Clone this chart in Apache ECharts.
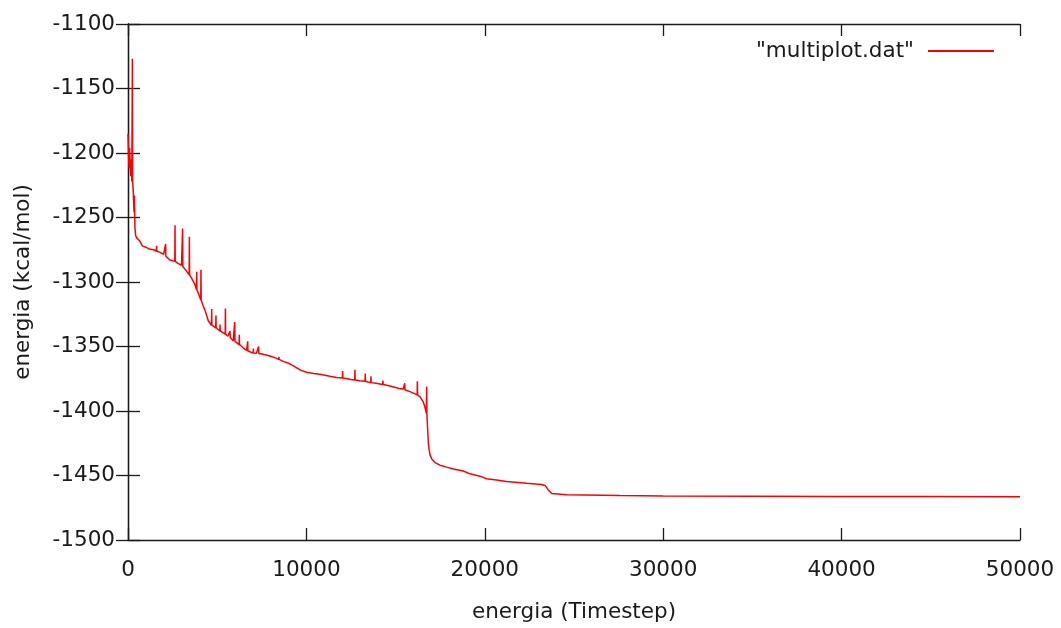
<!DOCTYPE html>
<html>
<head>
<meta charset="utf-8">
<script src="https://cdn.jsdelivr.net/npm/echarts@6/dist/echarts.min.js"></script>
<style>
html,body{margin:0;padding:0;background:#fff;}
#c{width:1061px;height:628px;}
</style>
</head>
<body>
<div id="c"></div>
<script>
// ---- data ----
var baseT = [0,30,60,90,120,150,190,215,290,320,340,390,430,500,650,800,1000,1200,1420,1800,2000,2350,2800,3000,3250,3600,3750,3950,4200,4320,4500,4800,5050,5300,5600,5900,6100,6450,6650,6900,7200,7585,8000,8300,8700,9000,9270,9700,10015,10400,10760,11320,11700,12300,12500,13000,13450,13900,14125,14500,14800,15200,15430,15800,16090,16370,16550,16620,16680,16790,16835,16880,16930,17020,17210,17490,17860,18235,18795,19170,19730,20100,20665,21225,22345,23190,23400,23550,23750,24590,27580,30000,35000,40000,45000,50000];
var baseE = [-1185,-1200,-1212,-1196,-1208,-1218,-1205,-1222,-1228,-1240,-1246,-1258,-1264,-1266,-1268,-1272,-1273,-1274.5,-1275,-1277,-1278.5,-1283,-1285.5,-1287,-1291,-1298,-1302,-1309,-1318,-1322,-1330,-1334.5,-1337,-1339,-1342,-1345.6,-1347,-1351,-1353,-1354.5,-1355.3,-1356,-1357.5,-1359,-1361.5,-1363,-1365,-1368.5,-1370,-1371,-1371.5,-1373,-1374,-1375,-1375.5,-1376.5,-1377.5,-1378.5,-1379,-1380,-1381,-1382.5,-1383,-1385,-1386.7,-1389,-1393,-1396,-1399,-1412,-1425,-1430,-1434,-1437,-1440,-1442,-1443.5,-1445,-1446.5,-1448.7,-1450.5,-1452.5,-1453.5,-1454.6,-1456,-1457,-1458,-1461,-1464,-1465,-1465.6,-1465.8,-1466,-1466.2,-1466.3,-1466.5];
var spikeT    = [245,360,1600,2110,2635,3060,3440,3850,4090,4690,4930,5160,5460,5720,5980,6240,6710,7030,7320,8460,12030,12720,13300,13620,14290,15510,16220,16740];
var spikeBase = [-1222,-1245,-1276,-1280,-1284,-1288,-1294.5,-1306,-1314,-1333.5,-1335.5,-1338,-1340.5,-1343,-1346,-1348.5,-1353.5,-1355,-1355.5,-1360,-1374.5,-1376,-1377,-1378,-1379.5,-1383.5,-1387.5,-1402];
var spikeTop  = [-1127,-1233,-1272,-1270.5,-1256,-1258.5,-1265,-1292,-1290.5,-1321,-1326,-1333,-1320.5,-1338,-1331,-1341,-1346,-1351.5,-1350,-1358,-1369,-1368,-1371,-1373,-1376.4,-1378.5,-1377,-1381];
var xTicks = [0,10000,20000,30000,40000,50000];
var yTicks = [-1500,-1450,-1400,-1350,-1300,-1250,-1200,-1150,-1100];
var seriesName = '"multiplot.dat"';

// ---- build series ----
var pts = [];
for (var i = 0; i < baseT.length; i++) pts.push([baseT[i], baseE[i]]);
for (var j = 0; j < spikeT.length; j++) {
  pts.push([spikeT[j] - 12, spikeBase[j]]);
  pts.push([spikeT[j], spikeTop[j]]);
  pts.push([spikeT[j] + 12, spikeBase[j]]);
}
pts.sort(function(a, b){ return a[0] - b[0]; });

var FONT = 'DejaVu Sans';
var FS = 21.5;
var TXT = '#1a1a1a';
var axisLineStyle = {color: '#1a1a1a', width: 1.3};
function plain(v){ return String(v); }

var chart = echarts.init(document.getElementById('c'), null, {renderer: 'canvas'});
chart.setOption({
  animation: false,
  backgroundColor: '#ffffff',
  textStyle: {fontFamily: FONT},
  grid: {left: 128, right: 41, top: 24, bottom: 84, containLabel: false},
  legend: {
    data: [{name: seriesName, icon: 'rect'}],
    right: 62, top: 35,
    align: 'right',
    itemWidth: 66, itemHeight: 2,
    textStyle: {fontFamily: FONT, fontSize: FS, color: TXT, padding: [0, 9, 0, 0]},
    selectedMode: false
  },
  xAxis: [{
    type: 'value', min: xTicks[0], max: xTicks[xTicks.length - 1], interval: 10000,
    name: 'energia (Timestep)', nameLocation: 'middle', nameGap: 61,
    nameTextStyle: {fontFamily: FONT, fontSize: FS, color: TXT},
    axisLine: {show: true, lineStyle: axisLineStyle},
    axisTick: {show: true, inside: true, length: 12, lineStyle: axisLineStyle},
    axisLabel: {fontFamily: FONT, fontSize: FS, color: TXT, margin: 19, formatter: plain},
    splitLine: {show: false}
  }, {
    type: 'value', position: 'top', min: xTicks[0], max: xTicks[xTicks.length - 1], interval: 10000,
    axisLine: {show: true, lineStyle: axisLineStyle},
    axisTick: {show: true, inside: true, length: 12, lineStyle: axisLineStyle},
    axisLabel: {show: false}, splitLine: {show: false}
  }],
  yAxis: [{
    type: 'value', min: yTicks[0], max: yTicks[yTicks.length - 1], interval: 50,
    name: 'energia (kcal/mol)', nameLocation: 'middle', nameGap: 94,
    nameTextStyle: {fontFamily: FONT, fontSize: FS, color: TXT},
    axisLine: {show: true, lineStyle: axisLineStyle},
    axisTick: {show: true, inside: true, length: 12, lineStyle: axisLineStyle},
    axisLabel: {fontFamily: FONT, fontSize: FS, color: TXT, margin: 13, formatter: plain, padding: [4, 0, 0, 0]},
    splitLine: {show: false}
  }, {
    type: 'value', position: 'right', min: yTicks[0], max: yTicks[yTicks.length - 1], interval: 50,
    axisLine: {show: true, lineStyle: axisLineStyle},
    axisTick: {show: true, inside: true, length: 12, lineStyle: axisLineStyle},
    axisLabel: {show: false}, splitLine: {show: false}
  }],
  series: [{
    name: seriesName,
    type: 'line',
    xAxisIndex: 0, yAxisIndex: 0,
    data: pts,
    showSymbol: false, symbol: 'none',
    lineStyle: {color: '#ff0000', width: 1.5},
    itemStyle: {color: '#ff0000'}
  }]
});
</script>
</body>
</html>
